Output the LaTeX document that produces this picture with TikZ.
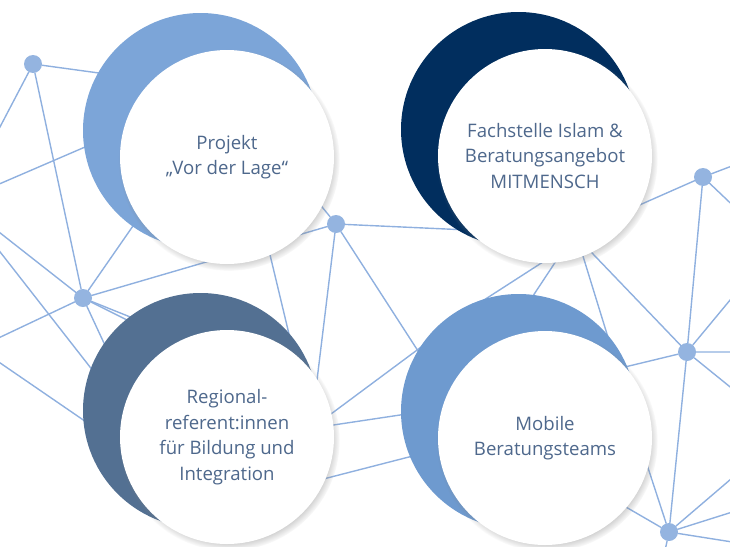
\documentclass[tikz,border=0pt]{standalone}
\usepackage{fontspec}
\setmainfont{Open Sans}
\usetikzlibrary{shadows,positioning}
\definecolor{netblue}{RGB}{143,176,223}
\definecolor{dotblue}{RGB}{148,180,224}
\definecolor{ringA}{RGB}{124,165,216}
\definecolor{ringB}{RGB}{1,46,94}
\definecolor{ringC}{RGB}{83,112,146}
\definecolor{ringD}{RGB}{110,154,207}
\definecolor{labeltext}{RGB}{78,104,140}
\newcommand{\drawRing}[4]{
    \begin{scope}[shift={(#2)}]
        \node[ringback,fill=#3] (#1back) at (-26.5,-26.5) {};
        \node[ringface] (#1) at (0,0) {#4};
    \end{scope}
}

\begin{document}
\begin{tikzpicture}[x=1pt,y=-1pt,line cap=round,line join=round,
    net/.style={draw=netblue,line width=1.4pt},
    netdot/.style={circle,fill=dotblue,minimum size=18pt,inner sep=0pt},
    ringback/.style={circle,minimum size=235pt,inner sep=0pt},
    ringface/.style={circle,minimum size=214pt,inner sep=0pt,fill=white,
        circular drop shadow={shadow xshift=2pt,shadow yshift=-3pt,shadow scale=1.035,opacity=0.7},
        text=labeltext,align=center,font=\fontsize{18.6}{25.5}\selectfont}]
    \useasboundingbox (0,0) rectangle (730,546);
    \clip (0,0) rectangle (730,546);

    % network
    \node[netdot] (nA) at (33,64) {};
    \node[netdot] (nB) at (83,298) {};
    \node[netdot] (nC) at (336,224) {};
    \node[netdot] (nD) at (703,177) {};
    \node[netdot] (nE) at (687,352) {};
    \node[netdot] (nF) at (669,532) {};

    \coordinate (pA1) at (150,80);
    \coordinate (pA2) at (-10,146);
    \coordinate (pL1) at (-10,188);
    \coordinate (pL2) at (150,119);
    \coordinate (pB1) at (-10,225);
    \coordinate (pB2) at (160,187);
    \coordinate (pB3) at (-10,342);
    \coordinate (pB4) at (175,344);
    \coordinate (pB5) at (180,337);
    \coordinate (pB6) at (130,399);
    \coordinate (pL3) at (-10,239);
    \coordinate (pL4) at (140,431);
    \coordinate (pL5) at (-10,356);
    \coordinate (pL6) at (130,452);
    \coordinate (pC1) at (490,231);
    \coordinate (pC2) at (300,180);
    \coordinate (pC3) at (313,413);
    \coordinate (pC4) at (440,385);
    \coordinate (pM1) at (260,213);
    \coordinate (pM2) at (300,380);
    \coordinate (pM3) at (300,437);
    \coordinate (pM4) at (440,333);
    \coordinate (pM5) at (300,430);
    \coordinate (pM6) at (440,409);
    \coordinate (pM7) at (300,485);
    \coordinate (pM8) at (440,449);
    \coordinate (pR1) at (470,309);
    \coordinate (pR2) at (560,251);
    \coordinate (pR3) at (525,308);
    \coordinate (pR4) at (560,255);
    \coordinate (pR5) at (578,240);
    \coordinate (pR6) at (615,360);
    \coordinate (pR7) at (570,230);
    \coordinate (pD1) at (745,161);
    \coordinate (pD2) at (610,218);
    \coordinate (pD3) at (745,217);
    \coordinate (pE1) at (745,282);
    \coordinate (pE2) at (745,352);
    \coordinate (pE3) at (745,399);
    \coordinate (pE4) at (600,373);
    \coordinate (pF1) at (745,467);
    \coordinate (pF2) at (745,508);
    \coordinate (pF3) at (745,544);
    \coordinate (pF4) at (634,425);
    \coordinate (pF5) at (600,492);
    \coordinate (pF6) at (663,560);

    \draw[net] (pA1) -- (nA) -- (pA2);
    \draw[net] (nA) -- (nB) -- (nC);
    \draw[net] (pL1) -- (pL2);
    \draw[net] (pB1) -- (nB) -- (pB2);
    \draw[net] (pB3) -- (nB) -- (pB4);
    \draw[net] (nB) -- (pB5);
    \draw[net] (nB) -- (pB6);
    \draw[net] (pL3) -- (pL4);
    \draw[net] (pL5) -- (pL6);
    \draw[net] (pC2) -- (nC) -- (pC1);
    \draw[net] (pC3) -- (nC) -- (pC4);
    \draw[net] (pM1) -- (pM2);
    \draw[net] (pM3) -- (pM4);
    \draw[net] (pM5) -- (pM6);
    \draw[net] (pM7) -- (pM8);
    \draw[net] (pR1) -- (pR2);
    \draw[net] (pR3) -- (pR4);
    \draw[net] (pR5) -- (pR6);
    \draw[net] (pR7) -- (nE);
    \draw[net] (pD2) -- (nD) -- (pD1);
    \draw[net] (pD3) -- (nD) -- (nE) -- (nF);
    \draw[net] (pE1) -- (nE) -- (pE2);
    \draw[net] (pE3) -- (nE) -- (pE4);
    \draw[net] (pF1) -- (nF) -- (pF2);
    \draw[net] (pF3) -- (nF) -- (pF4);
    \draw[net] (pF5) -- (nF) -- (pF6);

    % rings
    \drawRing{vorlage}{227,157}{ringA}{Projekt\\„Vor der Lage“}
    \drawRing{fachstelle}{545,156}{ringB}{Fachstelle Islam \&\\Beratungsangebot\\MITMENSCH}
    \drawRing{regional}{227,437}{ringC}{Regional-\\referent:innen\\für Bildung und\\Integration}
    \drawRing{mobil}{545,438}{ringD}{Mobile\\Beratungsteams}
\end{tikzpicture}
\end{document}
